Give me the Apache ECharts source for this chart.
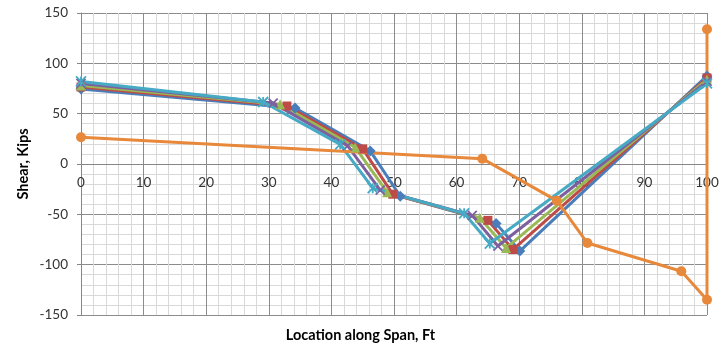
<!DOCTYPE html>
<html>
<head>
<meta charset="utf-8">
<script src="https://cdn.jsdelivr.net/npm/echarts@6/dist/echarts.min.js"></script>
<style>html,body{margin:0;padding:0;background:#fff}#c{width:721px;height:348px}</style>
</head>
<body>
<div id="c"></div>
<script>
// Location (ft) and shear (kips) per series
var laneAx = [0, 34.2, 46.2, 51, 66.3, 70.1, 100];
var laneAy = [74.5, 55.6, 13, -32, -59, -86.5, 87.5];
var laneBx = [0, 32.9, 45, 49.8, 65, 69, 100];
var laneBy = [76.5, 57.6, 15, -30, -56, -85, 85.5];
var laneCx = [0, 31.8, 43.8, 48.9, 63.7, 67.9, 100];
var laneCy = [78, 59.4, 16.5, -28, -53.5, -83.5, 84];
var laneDx = [0, 30.7, 42.6, 47.8, 62.5, 66.6, 100];
var laneDy = [80, 60.5, 18, -26, -51, -81.5, 82];
var laneEx = [0, 29.1, 41.4, 46.6, 61.2, 65.3, 100];
var laneEy = [82, 61.6, 19.5, -24, -49, -79, 80];
var otherX = [0, 64.1, 76.0, 80.9, 95.9, 100, 100];
var otherY = [26.5, 5.3, -36.4, -78.5, -106.6, -134.8, 133.8];

var xTicks = [0, 10, 20, 30, 40, 50, 60, 70, 80, 90, 100];
var yTicks = [-150, -100, -50, 0, 50, 100, 150];
var xTitle = 'Location along Span, Ft';
var yTitle = 'Shear, Kips';

function pairs(xs, ys) { return xs.map(function (x, i) { return [x, ys[i]]; }); }

var X_PATH = 'path://M0,0 L10,10 M10,0 L0,10';
var STAR_PATH = 'path://M0,0 L10,10 M10,0 L0,10 M5,0 L5,10';

function mk(data, color, symbol, size, stroke) {
  return {
    type: 'line', data: data, symbol: symbol, symbolSize: size,
    lineStyle: { color: color, width: 3 },
    itemStyle: stroke ? { color: color, borderColor: color, borderWidth: 1.8 } : { color: color, borderWidth: 0 },
    emphasis: { disabled: true }, animation: false, z: 3
  };
}

var GRID_TOP = 13, GRID_BOTTOM = 33, H = 348;
var plotH = H - GRID_TOP - GRID_BOTTOM;
var zeroOffset = -plotH * (0 - yTicks[0]) / (yTicks[yTicks.length - 1] - yTicks[0]);

var chart = echarts.init(document.getElementById('c'));
var FONT = 'Lato';
chart.setOption({
  animation: false,
  grid: { left: 81, right: 14, top: GRID_TOP, bottom: GRID_BOTTOM, containLabel: false, outerBoundsMode: 'none' },
  graphic: [
    { type: 'text', left: 'center', top: 328, style: { text: xTitle, font: 'bold 14.5px Lato', fill: '#000' } },
    { type: 'text', rotation: Math.PI / 2, x: 23, y: 164, style: { text: yTitle, font: 'bold 14.5px Lato', fill: '#000', align: 'center', verticalAlign: 'middle' } }
  ],
  xAxis: {
    type: 'value', min: xTicks[0], max: xTicks[xTicks.length - 1], interval: 10,
    offset: zeroOffset,
    axisLine: { onZero: false, lineStyle: { color: '#868686', width: 1 } },
    axisTick: { show: false },
    axisLabel: { fontFamily: FONT, fontSize: 13.5, color: '#333', margin: 12, hideOverlap: false },
    splitLine: { show: true, lineStyle: { color: '#8c8c8c', width: 1 } },
    minorTick: { show: false, splitNumber: 5 },
    minorSplitLine: { show: true, lineStyle: { color: '#d9d9d9', width: 1 } }
  },
  yAxis: {
    type: 'value', min: yTicks[0], max: yTicks[yTicks.length - 1], interval: 50,
    axisLine: { show: true, lineStyle: { color: '#868686', width: 1 } },
    axisTick: { show: true, length: 4, lineStyle: { color: '#868686' } },
    axisLabel: { fontFamily: FONT, fontSize: 13.5, color: '#333', margin: 13, showMinLabel: true, showMaxLabel: true },
    splitLine: { show: true, lineStyle: { color: '#8c8c8c', width: 1 } },
    minorTick: { show: false, splitNumber: 5 },
    minorSplitLine: { show: true, lineStyle: { color: '#d9d9d9', width: 1 } }
  },
  series: [
    mk(pairs(laneAx, laneAy), '#4A7EBB', 'diamond', 11, false),
    mk(pairs(laneBx, laneBy), '#BE4B48', 'rect', 9, false),
    mk(pairs(laneCx, laneCy), '#98B954', 'triangle', 10, false),
    mk(pairs(laneDx, laneDy), '#7D60A0', X_PATH, 9, true),
    mk(pairs(laneEx, laneEy), '#46AAC5', STAR_PATH, 10, true),
    mk(pairs(otherX, otherY), '#E8883A', 'circle', 10, false)
  ]
});
</script>
</body>
</html>
